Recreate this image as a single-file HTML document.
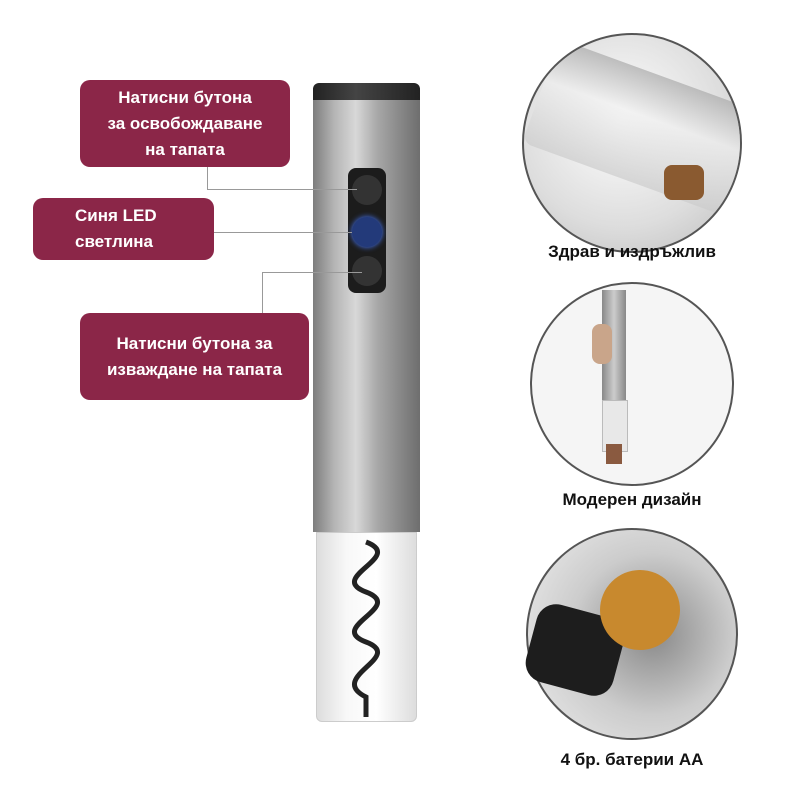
<!DOCTYPE html>
<html><head><meta charset="utf-8"><style>
body{margin:0;width:800px;height:800px;background:#fff;position:relative;overflow:hidden;font-family:"Liberation Sans","DejaVu Sans",sans-serif}
.box{position:absolute;background:#8b2648;color:#fff;font-weight:bold;font-size:17px;line-height:26px;text-align:center;border-radius:10px;display:flex;align-items:center;justify-content:center}
.ln{position:absolute;background:#999}
.circ{position:absolute;border-radius:50%;border:2px solid #555;box-sizing:border-box;overflow:hidden;background:#f2f2f2}
.cap{position:absolute;font-weight:bold;font-size:17px;color:#111;text-align:center;width:300px}
</style></head><body>
<div style="position:absolute;left:313px;top:83px;width:107px;height:20px;background:linear-gradient(90deg,#222,#444 40%,#222);border-radius:6px 6px 0 0"></div>
<div style="position:absolute;left:313px;top:100px;width:107px;height:432px;background:linear-gradient(90deg,#7d7d7d,#b5b5b5 20%,#d8d8d8 40%,#a8a8a8 60%,#8a8a8a 80%,#6e6e6e)"></div>
<div style="position:absolute;left:348px;top:168px;width:38px;height:125px;background:#1c1c1c;border-radius:8px"></div>
<div style="position:absolute;left:352px;top:175px;width:30px;height:30px;background:#333;border-radius:50%"></div>
<div style="position:absolute;left:352px;top:217px;width:30px;height:30px;background:#233a7a;border-radius:50%;box-shadow:0 0 6px #4a7bff"></div>
<div style="position:absolute;left:352px;top:256px;width:30px;height:30px;background:#333;border-radius:50%"></div>
<div style="position:absolute;left:316px;top:532px;width:101px;height:190px;background:linear-gradient(90deg,#ddd,#f8f8f8 30%,#fff 60%,#ddd);border-radius:0 0 6px 6px;border:1px solid #ccc;box-sizing:border-box"></div>
<svg style="position:absolute;left:316px;top:532px" width="101" height="190"><path d="M50 10 C90 25 10 45 50 60 C90 75 10 95 50 110 C90 125 10 145 50 165 L50 185" stroke="#222" stroke-width="5" fill="none"/></svg>
<div class="ln" style="left:207px;top:167px;width:1px;height:23px"></div>
<div class="ln" style="left:207px;top:189px;width:150px;height:1px"></div>
<div class="ln" style="left:214px;top:232px;width:138px;height:1px"></div>
<div class="ln" style="left:262px;top:272px;width:1px;height:41px"></div>
<div class="ln" style="left:262px;top:272px;width:100px;height:1px"></div>
<div class="box" style="left:80px;top:80px;width:210px;height:87px">Натисни бутона<br>за освобождаване<br>на тапата</div>
<div class="box" style="left:33px;top:198px;width:181px;height:62px;text-align:left;justify-content:flex-start;padding-left:42px;box-sizing:border-box">Синя LED<br>светлина</div>
<div class="box" style="left:80px;top:313px;width:229px;height:87px">Натисни бутона за<br>изваждане на тапата</div>
<div class="circ" style="left:522px;top:33px;width:220px;height:220px;background:radial-gradient(circle at 45% 40%,#fff,#ddd 60%,#bbb)">
<div style="position:absolute;left:10px;top:40px;width:230px;height:110px;background:linear-gradient(180deg,#aaa,#eee 40%,#ccc);transform:rotate(20deg);border-radius:10px;opacity:.7"></div>
<div style="position:absolute;left:140px;top:130px;width:40px;height:35px;background:#8a5a30;border-radius:8px"></div>
</div>
<div class="cap" style="left:482px;top:242px">Здрав и издръжлив</div>
<div class="circ" style="left:530px;top:282px;width:204px;height:204px;background:#f5f5f5">
<div style="position:absolute;left:70px;top:6px;width:24px;height:110px;background:linear-gradient(90deg,#888,#ccc,#888)"></div>
<div style="position:absolute;left:70px;top:116px;width:24px;height:50px;background:#e8e8e8;border:1px solid #bbb"></div>
<div style="position:absolute;left:74px;top:160px;width:16px;height:20px;background:#8a5a40"></div>
<div style="position:absolute;left:60px;top:40px;width:20px;height:40px;background:#c9a58a;border-radius:8px"></div>
</div>
<div class="cap" style="left:482px;top:490px">Модерен дизайн</div>
<div class="circ" style="left:526px;top:528px;width:212px;height:212px;background:radial-gradient(circle at 60% 50%,#888,#ccc 50%,#eee)"></div>
<div style="position:absolute;left:530px;top:610px;width:90px;height:80px;background:#1d1d1d;border-radius:20px;transform:rotate(15deg)"></div>
<div style="position:absolute;left:600px;top:570px;width:80px;height:80px;background:#c8892e;border-radius:50%"></div>
<div class="cap" style="left:482px;top:750px">4 бр. батерии АА</div>
</body></html>
